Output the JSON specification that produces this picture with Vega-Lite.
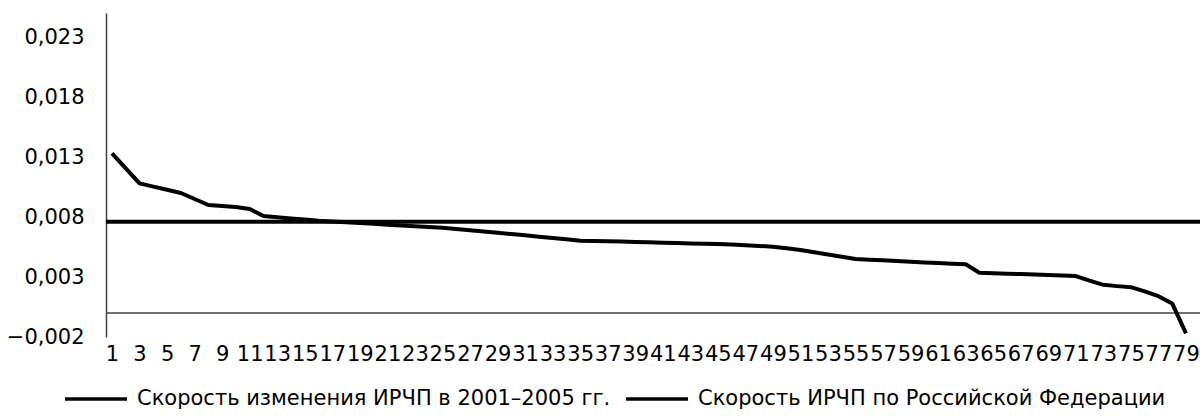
{
  "$schema": "https://vega.github.io/schema/vega-lite/v6.json",
  "autosize": {"type": "none"},
  "width": 1094,
  "height": 324,
  "padding": {"left": 106, "top": 13, "right": 0, "bottom": 82},
  "background": "white",
  "config": {
    "locale": {"number": {"decimal": ",", "thousands": " ", "grouping": [3], "currency": ["", ""]}},
    "view": {"stroke": null},
    "font": "DejaVu Sans"
  },
  "datasets": {
    "series": [
      {"n": 1, "v": 0.0133}, {"n": 2, "v": 0.01205}, {"n": 3, "v": 0.0108}, {"n": 4, "v": 0.01053},
      {"n": 5, "v": 0.01027}, {"n": 6, "v": 0.0100}, {"n": 7, "v": 0.0095}, {"n": 8, "v": 0.0090},
      {"n": 9, "v": 0.00892}, {"n": 10, "v": 0.00883}, {"n": 11, "v": 0.00867}, {"n": 12, "v": 0.00808},
      {"n": 13, "v": 0.00798}, {"n": 14, "v": 0.00788}, {"n": 15, "v": 0.00779}, {"n": 16, "v": 0.00769},
      {"n": 17, "v": 0.00762}, {"n": 18, "v": 0.00756}, {"n": 19, "v": 0.00749}, {"n": 20, "v": 0.00743},
      {"n": 21, "v": 0.00736}, {"n": 22, "v": 0.0073}, {"n": 23, "v": 0.00723}, {"n": 24, "v": 0.00717},
      {"n": 25, "v": 0.0071}, {"n": 26, "v": 0.007}, {"n": 27, "v": 0.0069}, {"n": 28, "v": 0.0068},
      {"n": 29, "v": 0.00669}, {"n": 30, "v": 0.00658}, {"n": 31, "v": 0.00647}, {"n": 32, "v": 0.00636},
      {"n": 33, "v": 0.00625}, {"n": 34, "v": 0.00614}, {"n": 35, "v": 0.00603}, {"n": 36, "v": 0.006},
      {"n": 37, "v": 0.00597}, {"n": 38, "v": 0.00595}, {"n": 39, "v": 0.00592}, {"n": 40, "v": 0.00589},
      {"n": 41, "v": 0.00586}, {"n": 42, "v": 0.00583}, {"n": 43, "v": 0.0058}, {"n": 44, "v": 0.00578},
      {"n": 45, "v": 0.00575}, {"n": 46, "v": 0.0057}, {"n": 47, "v": 0.00564}, {"n": 48, "v": 0.00559},
      {"n": 49, "v": 0.00553}, {"n": 50, "v": 0.00539}, {"n": 51, "v": 0.00525}, {"n": 52, "v": 0.00506},
      {"n": 53, "v": 0.00488}, {"n": 54, "v": 0.00469}, {"n": 55, "v": 0.0045}, {"n": 56, "v": 0.00444},
      {"n": 57, "v": 0.00439}, {"n": 58, "v": 0.00433}, {"n": 59, "v": 0.00427}, {"n": 60, "v": 0.00421},
      {"n": 61, "v": 0.00416}, {"n": 62, "v": 0.0041}, {"n": 63, "v": 0.00406}, {"n": 64, "v": 0.00336},
      {"n": 65, "v": 0.00332}, {"n": 66, "v": 0.00328}, {"n": 67, "v": 0.00324}, {"n": 68, "v": 0.0032},
      {"n": 69, "v": 0.00316}, {"n": 70, "v": 0.00312}, {"n": 71, "v": 0.00308}, {"n": 72, "v": 0.0027},
      {"n": 73, "v": 0.00235}, {"n": 74, "v": 0.00224}, {"n": 75, "v": 0.00215}, {"n": 76, "v": 0.0018},
      {"n": 77, "v": 0.0014}, {"n": 78, "v": 0.0008}, {"n": 79, "v": -0.0017}
    ],
    "rf": [{"v": 0.0076, "s": "Скорость ИРЧП по Российской Федерации"}],
    "zero": [{"v": 0}]
  },
  "layer": [
    {
      "data": {"name": "zero"},
      "mark": {"type": "rule", "color": "#404040", "strokeWidth": 1.5},
      "encoding": {
        "y": {"field": "v", "type": "quantitative", "scale": {"domain": [-0.002, 0.025], "nice": false, "zero": false}}
      }
    },
    {
      "data": {"name": "rf"},
      "mark": {"type": "rule", "strokeWidth": 4},
      "encoding": {
        "y": {"field": "v", "type": "quantitative"},
        "color": {"field": "s", "type": "nominal"}
      }
    },
    {
      "data": {"name": "series"},
      "transform": [{"calculate": "'Скорость изменения ИРЧП в 2001–2005 гг.'", "as": "s"}],
      "mark": {"type": "line", "strokeWidth": 4, "strokeJoin": "round"},
      "encoding": {
        "x": {
          "field": "n", "type": "quantitative",
          "scale": {"domain": [0.564, 80.02], "nice": false, "zero": false},
          "axis": {
            "title": null, "values": [1,3,5,7,9,11,13,15,17,19,21,23,25,27,29,31,33,35,37,39,41,43,45,47,49,51,53,55,57,59,61,63,65,67,69,71,73,75,77,79],
            "domain": false, "ticks": false, "grid": false, "labelFontSize": 21, "labelColor": "#000",
            "labelOverlap": false, "labelFlush": false, "labelBound": false, "labelPadding": 6
          }
        },
        "y": {
          "field": "v", "type": "quantitative",
          "axis": {
            "title": null, "values": [-0.002, 0.003, 0.008, 0.013, 0.018, 0.023], "format": ".3f",
            "grid": false, "ticks": false, "domainColor": "#404040", "domainWidth": 1.5,
            "labelFontSize": 21, "labelColor": "#000", "labelPadding": 22
          }
        },
        "color": {
          "field": "s", "type": "nominal",
          "scale": {"domain": ["Скорость изменения ИРЧП в 2001–2005 гг.", "Скорость ИРЧП по Российской Федерации"], "range": ["#000", "#000"]},
          "legend": {
            "title": null, "orient": "none", "direction": "horizontal", "legendX": -43, "legendY": 353,
            "symbolType": "stroke", "symbolSize": 3844, "symbolStrokeWidth": 3.5,
            "labelFontSize": 21, "labelColor": "#000", "labelOffset": 8, "columnPadding": 8, "labelLimit": 0
          }
        }
      }
    }
  ]
}
